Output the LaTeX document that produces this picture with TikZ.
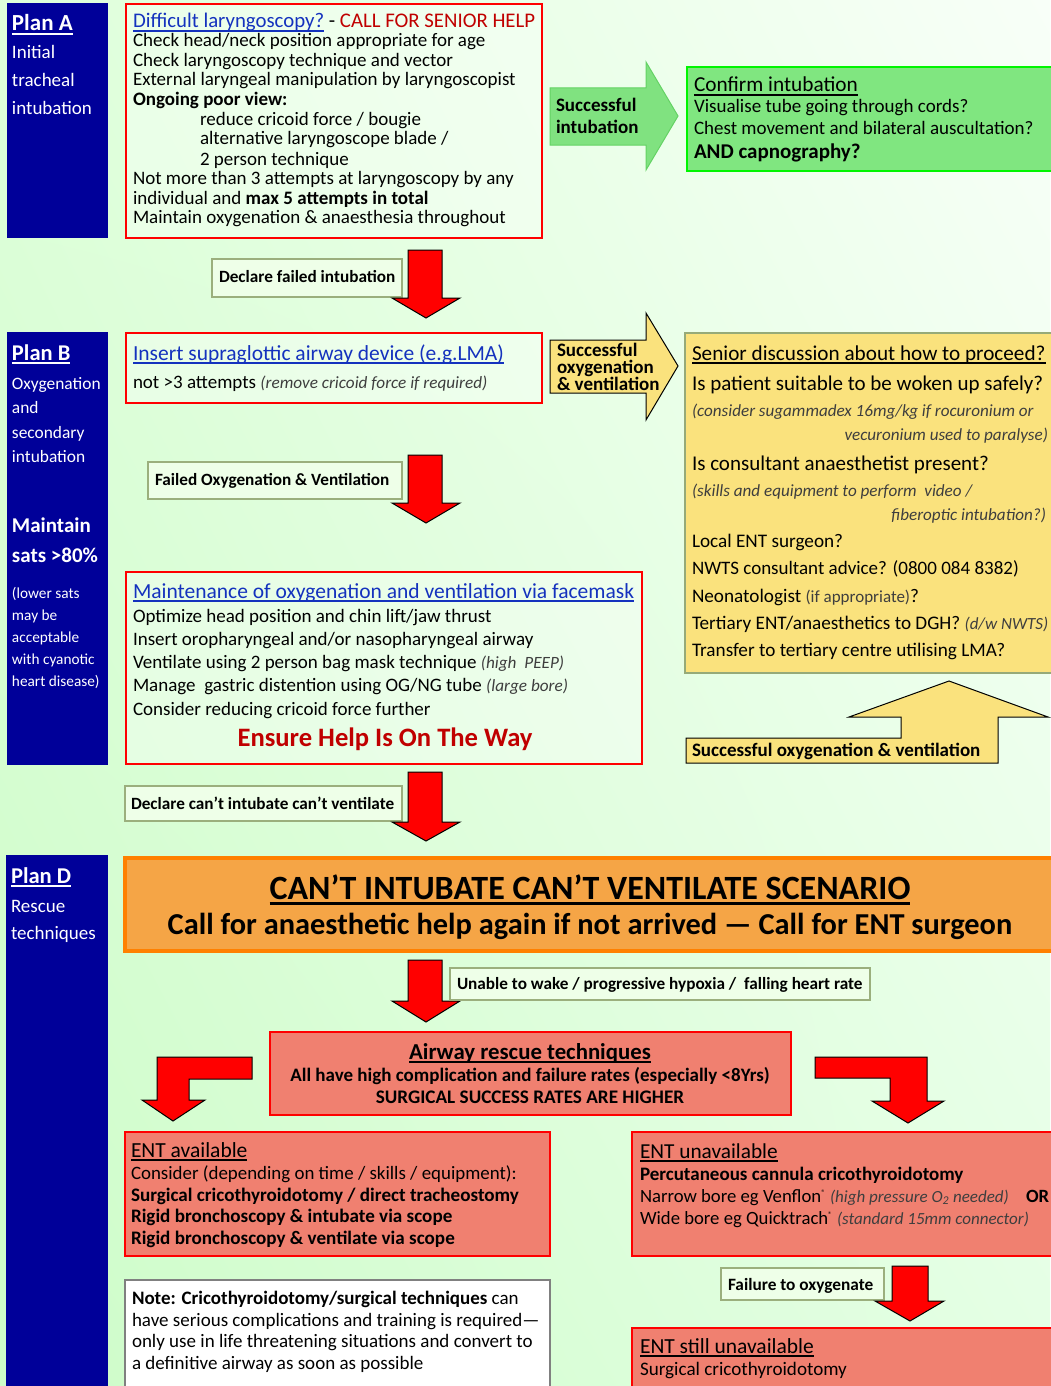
\documentclass[tikz,border=0pt]{standalone}
\usepackage{fontspec}
\setmainfont{Carlito}
\usetikzlibrary{fit,shadings}
\definecolor{planblue}{RGB}{0,0,153}
\definecolor{linkblue}{RGB}{20,50,190}
\definecolor{darkred}{RGB}{192,0,0}
\definecolor{grayit}{RGB}{62,62,62}
\definecolor{arrgreen}{RGB}{128,226,128}
\definecolor{arrgreenb}{RGB}{100,210,100}
\definecolor{confgreen}{RGB}{128,230,128}
\definecolor{brightgreen}{RGB}{0,245,0}
\definecolor{yel}{RGB}{250,226,125}
\definecolor{yelb}{RGB}{150,170,120}
\definecolor{salmon}{RGB}{240,128,112}
\definecolor{orfill}{RGB}{245,165,70}
\definecolor{orbord}{RGB}{255,128,0}
\definecolor{lblb}{RGB}{155,175,125}
\definecolor{lblf}{RGB}{238,255,232}
\definecolor{bgul}{RGB}{222,255,218}
\definecolor{bgur}{RGB}{248,255,248}
\definecolor{bgll}{RGB}{205,252,200}
\definecolor{bglr}{RGB}{228,255,228}
\newcommand\fs[1]{\fontsize{#1}{#1}\selectfont}
\newcommand\myul[1]{\setbox0=\hbox{#1}\leavevmode\rlap{\rule[-0.17em]{\wd0}{0.075em}}\box0}
\tikzset{
  t/.style={anchor=base west, inner sep=0pt, outer sep=0pt},
  tr/.style={anchor=base east, inner sep=0pt, outer sep=0pt},
  tc/.style={anchor=base, inner sep=0pt, outer sep=0pt},
  planbox/.style={fill=planblue, draw=none, inner sep=0pt},
  redbox/.style={draw=red, line width=2pt, fill=white, fill opacity=0.35, inner sep=0pt},
  salmonbox/.style={draw=red, line width=2pt, fill=salmon, inner sep=0pt},
  lbl/.style={draw=lblb, line width=2.5pt, fill=lblf, inner sep=0pt},
  redarrow/.style={fill=red, draw=black, line width=1pt, line join=miter},
  yelarrow/.style={fill=yel, draw=black, line width=1pt, line join=miter},
  w/.style={t, text=white}
}
\begin{document}
\begin{tikzpicture}[x=1pt,y=-1pt]
\useasboundingbox (0,0) rectangle (1050,1386);
\shade[upper left=bgul, upper right=bgur, lower left=bgll, lower right=bglr] (0,0) rectangle (1050,1386);

% ---------------- Plan A ----------------
\node[planbox, fit={(7,3) (108,238)}] (planA) {};
\node[w, font=\fs{23}\bfseries] (pa1) at (12,31) {\myul{Plan A}};
\node[w, font=\fs{19}] (pa2) at (12,59) {Initial};
\node[w, font=\fs{19}] (pa3) at (12,87) {tracheal};
\node[w, font=\fs{19}] (pa4) at (12,115) {intubation};

\node[redbox, fit={(126,4) (542,238)}] (boxA) {};
\node[t, font=\fs{20.8}] (a1) at (133,28) {\textcolor{linkblue}{\myul{Difficult laryngoscopy?}} - \textcolor{darkred}{CALL FOR SENIOR HELP}};
\node[t, font=\fs{19}] (a2) at (133,47) {Check head/neck position appropriate for age};
\node[t, font=\fs{19}] (a3) at (133,67) {Check laryngoscopy technique and vector};
\node[t, font=\fs{19}] (a4) at (133,86) {External laryngeal manipulation by laryngoscopist};
\node[t, font=\fs{19}\bfseries] (a5) at (133,106) {Ongoing poor view:};
\node[t, font=\fs{19}] (a6) at (200,125) {reduce cricoid force / bougie};
\node[t, font=\fs{19}] (a7) at (200,145) {alternative laryngoscope blade /};
\node[t, font=\fs{19}] (a8) at (200,165) {2 person technique};
\node[t, font=\fs{19}] (a9) at (133,184) {Not more than 3 attempts at laryngoscopy by any};
\node[t, font=\fs{19}] (a10) at (133,204) {individual and \textbf{max 5 attempts in total}};
\node[t, font=\fs{19}] (a11) at (133,223) {Maintain oxygenation \& anaesthesia throughout};

% green arrow
\draw[fill=arrgreen, draw=arrgreenb, line width=1pt, line join=miter] (550,88) -- (646,88) -- (646,62) -- (678,116) -- (646,170) -- (646,145) -- (550,145) -- cycle;
\node[t, font=\fs{19}\bfseries] (g1) at (556,112) {Successful};
\node[t, font=\fs{19}\bfseries] (g2) at (556,134) {intubation};

\node[fill=confgreen, draw=brightgreen, line width=2.5pt, inner sep=0pt, fit={(687,67) (1054,171)}] (conf) {};
\node[t, font=\fs{21.3}] (c1) at (694,92) {\myul{Confirm intubation}};
\node[t, font=\fs{19}] (c2) at (694,113) {Visualise tube going through cords?};
\node[t, font=\fs{19}] (c3) at (694,135) {Chest movement and bilateral auscultation?};
\node[t, font=\fs{21}\bfseries] (c4) at (694,158) {AND capnography?};

% declare failed intubation
\node[lbl, fit={(212,259) (402,297)}] (dfi) {};
\node[t, font=\fs{17.2}\bfseries] (dfit) at (219,282) {Declare failed intubation};
\draw[redarrow] (408,250) -- (442,250) -- (442,298) -- (460,298) -- (426,318) -- (392,298) -- (408,298) -- cycle;

% ---------------- Plan B ----------------
\node[planbox, fit={(7,332) (108,765)}] (planB) {};
\node[w, font=\fs{22.5}\bfseries] (pb1) at (12,360) {\myul{Plan B}};
\node[w, font=\fs{17.4}] (pb2) at (12,389) {Oxygenation};
\node[w, font=\fs{17.4}] (pb3) at (12,413) {and};
\node[w, font=\fs{17.4}] (pb4) at (12,438) {secondary};
\node[w, font=\fs{17.4}] (pb5) at (12,462) {intubation};
\node[w, font=\fs{21}\bfseries] (pb6) at (12,532) {Maintain};
\node[w, font=\fs{21}\bfseries] (pb7) at (12,562) {sats >80\%};
\node[w, font=\fs{15.3}] (pb8) at (12,598) {(lower sats};
\node[w, font=\fs{15.3}] (pb9) at (12,620) {may be};
\node[w, font=\fs{15.3}] (pb10) at (12,642) {acceptable};
\node[w, font=\fs{15.3}] (pb11) at (12,664) {with cyanotic};
\node[w, font=\fs{15.3}] (pb12) at (12,686) {heart disease)};

\node[redbox, fit={(126,333) (542,403)}] (boxB) {};
\node[t, font=\fs{21.5}] (b1) at (133,360) {\textcolor{linkblue}{\myul{Insert supraglottic airway device (e.g.LMA)}}};
\node[t, font=\fs{19}] (b2) at (133,388) {not >3 attempts \textcolor{grayit}{\fs{17.2}\itshape (remove cricoid force if required)}};

% yellow right arrow
\draw[yelarrow] (550,340) -- (646,340) -- (646,313) -- (678,366) -- (646,420) -- (646,393) -- (550,393) -- cycle;
\node[t, font=\fs{19}\bfseries] (y1) at (557,356) {Successful};
\node[t, font=\fs{19}\bfseries] (y2) at (557,373) {oxygenation};
\node[t, font=\fs{19}\bfseries] (y3) at (557,390) {\& ventilation};

% senior discussion
\node[fill=yel, draw=yelb, line width=2pt, inner sep=0pt, fit={(685,333) (1054,673)}] (senior) {};
\node[t, font=\fs{21.2}] (s1) at (692,360) {\myul{Senior discussion about how to proceed?}};
\node[t, font=\fs{21}] (s2) at (692,390) {Is patient suitable to be woken up safely?};
\node[t, font=\fs{17.1}\itshape, text=grayit] (s3) at (692,416) {(consider sugammadex 16mg/kg if rocuronium or};
\node[tr, font=\fs{17.1}\itshape, text=grayit] (s4) at (1048,440) {vecuronium used to paralyse)};
\node[t, font=\fs{21}] (s5) at (692,470) {Is consultant anaesthetist present?};
\node[t, font=\fs{17.1}\itshape, text=grayit] (s6) at (692,496) {(skills and equipment to perform\ \ video /};
\node[tr, font=\fs{17.1}\itshape, text=grayit] (s7) at (1046,520) {fiberoptic intubation?)};
\node[t, font=\fs{19.2}] (s8) at (692,547) {Local ENT surgeon?};
\node[t, font=\fs{19}] (s9) at (692,574) {NWTS consultant advice? (0800 084 8382)};
\node[t, font=\fs{19.2}] (s10) at (692,602) {Neonatologist \textcolor{grayit}{\fs{17}(if appropriate)}?};
\node[t, font=\fs{19.2}] (s11) at (692,629) {Tertiary ENT/anaesthetics to DGH? \textcolor{grayit}{\fs{17}\itshape(d/w NWTS)}};
\node[t, font=\fs{19.2}] (s12) at (692,656) {Transfer to tertiary centre utilising LMA?};

% failed oxygenation
\node[lbl, fit={(148,462) (402,499)}] (fov) {};
\node[t, font=\fs{17.2}\bfseries] (fovt) at (155,485) {Failed Oxygenation \& Ventilation};
\draw[redarrow] (408,455) -- (442,455) -- (442,503) -- (460,503) -- (426,523) -- (392,503) -- (408,503) -- cycle;

% maintenance box
\node[redbox, fit={(126,572) (642,764)}] (boxM) {};
\node[t, font=\fs{21.5}] (m1) at (133,598) {\textcolor{linkblue}{\myul{Maintenance of oxygenation and ventilation via facemask}}};
\node[t, font=\fs{19}] (m2) at (133,622) {Optimize head position and chin lift/jaw thrust};
\node[t, font=\fs{19}] (m3) at (133,645) {Insert oropharyngeal and/or nasopharyngeal airway};
\node[t, font=\fs{19}] (m4) at (133,668) {Ventilate using 2 person bag mask technique \textcolor{grayit}{\fs{17.2}\itshape (high\ \ PEEP)}};
\node[t, font=\fs{19}] (m5) at (133,691) {Manage\ \ gastric distention using OG/NG tube \textcolor{grayit}{\fs{17.2}\itshape (large bore)}};
\node[t, font=\fs{19}] (m6) at (133,715) {Consider reducing cricoid force further};
\node[tc, font=\fs{26.6}\bfseries, text=darkred] (m7) at (385,746) {Ensure Help Is On The Way};

% up yellow arrow
\draw[yelarrow] (686,738) -- (901,738) -- (901,717) -- (849,717) -- (949,681) -- (1048,717) -- (998,717) -- (998,763) -- (686,763) -- cycle;
\node[t, font=\fs{19}\bfseries] (up1) at (692,756) {Successful oxygenation \& ventilation};

% declare cant intubate
\node[lbl, fit={(125,786) (402,821)}] (dci) {};
\node[t, font=\fs{17.2}\bfseries] (dcit) at (131,809) {Declare can’t intubate can’t ventilate};
\draw[redarrow] (408,772) -- (442,772) -- (442,822) -- (460,822) -- (426,841) -- (392,822) -- (408,822) -- cycle;

% ---------------- Plan D ----------------
\node[planbox, fit={(6,855) (108,1390)}] (planD) {};
\node[w, font=\fs{22.6}\bfseries] (pd1) at (11,883) {\myul{Plan D}};
\node[w, font=\fs{19}] (pd2) at (11,912) {Rescue};
\node[w, font=\fs{19}] (pd3) at (11,939) {techniques};

\node[fill=orfill, draw=orbord, line width=4.5pt, inner sep=0pt, fit={(125,858) (1056,951)}] (cicv) {};
\node[tc, font=\fs{34}\bfseries] (o1) at (590,899) {\myul{CAN’T INTUBATE CAN’T VENTILATE SCENARIO}};
\node[tc, font=\fs{30.4}\bfseries] (o2) at (590,934) {Call for anaesthetic help again if not arrived — Call for ENT surgeon};

\draw[redarrow] (408,960) -- (442,960) -- (442,1001) -- (460,1001) -- (426,1022) -- (392,1001) -- (408,1001) -- cycle;
\node[lbl, fit={(450,968) (870,1000)}] (unable) {};
\node[t, font=\fs{17.2}\bfseries] (unt) at (457,989) {Unable to wake / progressive hypoxia /\ \ falling heart rate};

\node[salmonbox, fit={(270,1032) (791,1115)}] (rescue) {};
\node[tc, font=\fs{22.8}\bfseries] (r1) at (530,1059) {\myul{Airway rescue techniques}};
\node[tc, font=\fs{19}\bfseries] (r2) at (530,1081) {All have high complication and failure rates (especially <8Yrs)};
\node[tc, font=\fs{19.2}\bfseries] (r3) at (530,1103) {SURGICAL SUCCESS RATES ARE HIGHER};

% bent arrows
\draw[redarrow] (252,1057) -- (157,1057) -- (157,1100) -- (142,1100) -- (173,1121) -- (205,1100) -- (189,1100) -- (189,1079) -- (252,1079) -- cycle;
\draw[redarrow] (815,1057) -- (927,1057) -- (927,1101) -- (944,1101) -- (908,1123) -- (872,1101) -- (890,1101) -- (890,1078) -- (815,1078) -- cycle;

% ENT available
\node[salmonbox, fit={(125,1132) (550,1256)}] (entav) {};
\node[t, font=\fs{21.5}] (e1) at (131,1157) {\myul{ENT available}};
\node[t, font=\fs{18.9}] (e2) at (131,1179) {Consider (depending on time / skills / equipment):};
\node[t, font=\fs{19.1}\bfseries] (e3) at (131,1201) {Surgical cricothyroidotomy / direct tracheostomy};
\node[t, font=\fs{19.1}\bfseries] (e4) at (131,1222) {Rigid bronchoscopy \& intubate via scope};
\node[t, font=\fs{19.1}\bfseries] (e5) at (131,1244) {Rigid bronchoscopy \& ventilate via scope};

% note
\node[fill=white, draw=gray, line width=2.5pt, inner sep=0pt, fit={(125,1280) (550,1392)}] (note) {};
\node[t, font=\fs{19}] (n1) at (132,1304) {\textbf{Note: Cricothyroidotomy/surgical techniques} can};
\node[t, font=\fs{19}] (n2) at (132,1326) {have serious complications and training is required—};
\node[t, font=\fs{19}] (n3) at (132,1347) {only use in life threatening situations and convert to};
\node[t, font=\fs{19}] (n4) at (132,1369) {a definitive airway as soon as possible};

% ENT unavailable
\node[salmonbox, fit={(632,1132) (1054,1256)}] (entun) {};
\node[t, font=\fs{21.3}] (u1) at (640,1158) {\myul{ENT unavailable}};
\node[t, font=\fs{19}\bfseries] (u2) at (640,1180) {Percutaneous cannula cricothyroidotomy};
\node[t, font=\fs{18.7}] (u3) at (640,1202) {Narrow bore eg Venflon\textsuperscript{\fs{8}®}\ \textcolor{grayit}{\fs{17}\itshape(high pressure O\textsubscript{2} needed)}};
\node[t, font=\fs{18.7}\bfseries] (u3b) at (1026,1202) {OR};
\node[t, font=\fs{18.7}] (u4) at (640,1224) {Wide bore eg Quicktrach\textsuperscript{\fs{8}®}\ \textcolor{grayit}{\fs{17}\itshape(standard 15mm connector)}};

\node[lbl, fit={(721,1268) (884,1300)}] (fto) {};
\node[t, font=\fs{17.3}\bfseries] (ftot) at (728,1290) {Failure to oxygenate};
\draw[redarrow] (892,1266) -- (928,1266) -- (928,1301) -- (944,1301) -- (910,1321) -- (875,1301) -- (892,1301) -- cycle;

\node[salmonbox, fit={(632,1328) (1054,1392)}] (entstill) {};
\node[t, font=\fs{21.5}] (st1) at (640,1353) {\myul{ENT still unavailable}};
\node[t, font=\fs{19.1}] (st2) at (640,1375) {Surgical cricothyroidotomy};
\end{tikzpicture}
\end{document}
